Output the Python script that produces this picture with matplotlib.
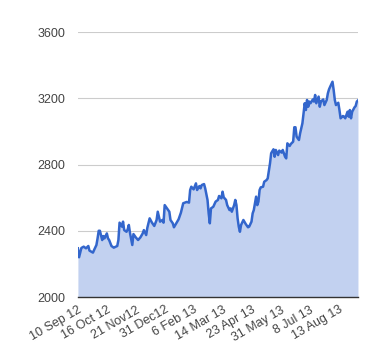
import matplotlib
matplotlib.use("Agg")
import matplotlib.pyplot as plt
from matplotlib.transforms import ScaledTranslation

plt.rcParams['font.family'] = ['Liberation Sans', 'DejaVu Sans']

# trading-day index -> closing value
day = [0, 1, 3, 5, 7, 9, 10, 13, 14, 16, 17, 18, 19, 21, 22, 23, 25, 26, 27, 29,
       31, 34, 35, 36, 38, 39, 40, 42, 43, 44, 45, 47, 48, 50, 52, 54, 56, 57, 59, 60,
       62, 64, 66, 68, 69, 71, 73, 74, 75, 77, 79, 80, 82, 83, 85, 87, 89, 91, 94, 96,
       97, 98, 100, 102, 103, 105, 106, 107, 109, 110, 112, 113, 114, 115, 117, 119, 121, 122, 124, 125,
       126, 128, 129, 131, 132, 133, 135, 136, 137, 138, 139, 140, 141, 143, 145, 147, 148, 150, 151, 152,
       154, 155, 156, 157, 158, 160, 161, 163, 164, 166, 167, 169, 170, 171, 173, 174, 176, 177, 179, 180,
       181, 183, 184, 186, 187, 188, 189, 191, 192, 194, 195, 196, 197, 198, 199, 200, 201, 203, 204, 205,
       206, 208, 209, 210, 212, 213, 215, 216, 217, 218, 220, 221, 222, 223, 225, 226, 227, 229, 230, 231,
       233, 234, 235, 236, 237, 239, 240, 241, 242]
close = [2294, 2240, 2296, 2304, 2294, 2308, 2280, 2268, 2284, 2314, 2354, 2400, 2400, 2344, 2368, 2354, 2384, 2354, 2344, 2308,
         2298, 2308, 2344, 2449, 2425, 2455, 2404, 2394, 2408, 2435, 2388, 2314, 2380, 2360, 2344, 2360, 2384, 2404, 2374, 2418,
         2475, 2449, 2429, 2465, 2515, 2455, 2465, 2449, 2555, 2535, 2515, 2465, 2445, 2421, 2445, 2469, 2509, 2566, 2574, 2570,
         2646, 2666, 2650, 2686, 2646, 2670, 2656, 2676, 2682, 2656, 2586, 2505, 2445, 2535, 2545, 2576, 2586, 2610, 2596, 2636,
         2602, 2586, 2555, 2525, 2535, 2515, 2555, 2586, 2555, 2475, 2425, 2394, 2435, 2465, 2441, 2421, 2425, 2455, 2505, 2525,
         2606, 2555, 2576, 2646, 2662, 2666, 2696, 2706, 2716, 2807, 2868, 2892, 2847, 2888, 2857, 2884, 2872, 2888, 2847, 2837,
         2928, 2912, 2924, 2938, 3025, 3025, 2968, 2948, 2988, 3049, 3109, 3170, 3129, 3190, 3149, 3180, 3170, 3193, 3180, 3220,
         3170, 3210, 3149, 3180, 3193, 3159, 3190, 3230, 3254, 3270, 3300, 3250, 3190, 3159, 3173, 3129, 3079, 3093, 3089, 3079,
         3119, 3089, 3129, 3079, 3119, 3145, 3153, 3180, 3187]

tick_days = [0, 25, 50, 75, 100, 125, 150, 175, 200, 225]
tick_labels = ['10 Sep 12', '16 Oct 12', '21 Nov12', '31 Dec12', '6 Feb 13',
               '14 Mar 13', '23 Apr 13', '31 May 13', '8 Jul 13', '13 Aug 13']
y_ticks = [2000, 2400, 2800, 3200, 3600]

fig = plt.figure(figsize=(3.8, 3.6), dpi=100)
ax = fig.add_axes([0.205, 0.175, 0.737, 0.736])

ax.fill_between(day, close, 2000, color='#c2d1f0', lw=0, zorder=2)
ax.plot(day, close, color='#3366cc', lw=1.8, zorder=3)

ax.set_xlim(0, 242)
ax.set_ylim(2000, 3600)
ax.set_yticks(y_ticks)
ax.set_yticklabels([str(v) for v in y_ticks])
ax.set_xticks(tick_days)
ax.set_xticklabels(tick_labels, rotation=30, ha='right', va='top',
                   rotation_mode='anchor')
shift = ScaledTranslation(4 / 100, -2 / 100, fig.dpi_scale_trans)
for lab in ax.get_xticklabels():
    lab.set_transform(lab.get_transform() + shift)

ax.grid(axis='y', color='#cccccc', lw=0.8, zorder=1)
ax.set_axisbelow(True)
for s in ['top', 'right', 'left']:
    ax.spines[s].set_visible(False)
ax.spines['bottom'].set_color('#333333')
ax.spines['bottom'].set_linewidth(1.0)
ax.spines['bottom'].set_zorder(4)
ax.tick_params(axis='both', length=0, labelsize=9, labelcolor='#444444')
ax.tick_params(axis='y', pad=9)
ax.tick_params(axis='x', pad=5)

fig.savefig('out.png', dpi=100, facecolor='white')
